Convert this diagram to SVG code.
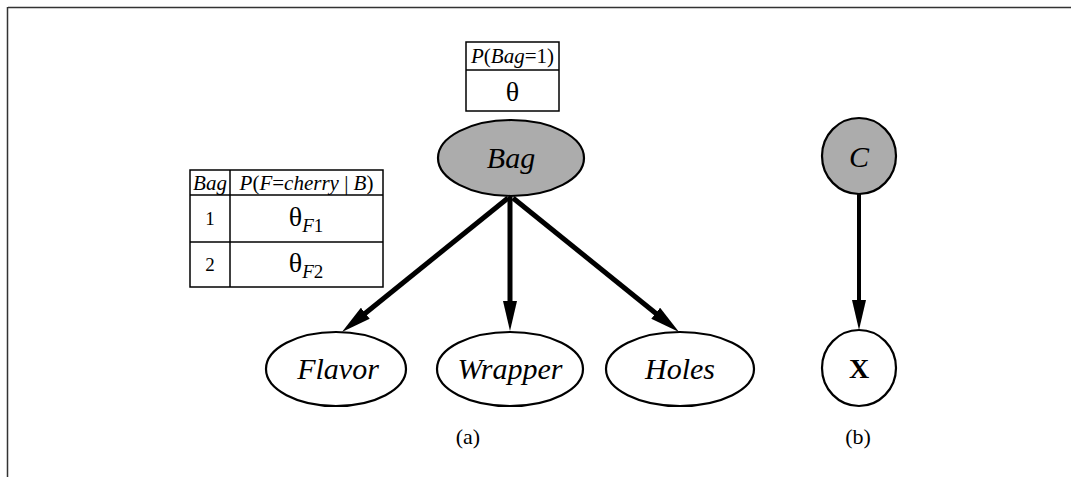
<svg xmlns="http://www.w3.org/2000/svg" width="1071" height="477" viewBox="0 0 1071 477">
<defs>
  <marker id="ah" viewBox="0 -7 30 14" refX="4" refY="0" markerWidth="30" markerHeight="14" markerUnits="userSpaceOnUse" orient="auto">
    <path d="M0,-7 L30,0 L0,7 z" fill="#000"/>
  </marker>
</defs>
<style>
  .frame{stroke:#333;stroke-width:1.5;fill:none}
  .node{stroke:#000;stroke-width:2.2;fill:#fff}
  .shaded{stroke:#000;stroke-width:2.2;fill:#acacac}
  .tbl{stroke:#000;stroke-width:1.5;fill:#fff}
  .tl{stroke:#000;stroke-width:1.5}
  .edge{stroke:#000;stroke-width:5;fill:none;marker-end:url(#ah)}
  .lbl{font-family:"Liberation Serif",serif;font-style:italic;font-size:30px;text-anchor:middle;fill:#000}
  .t{font-family:"Liberation Serif",serif;font-size:21px;text-anchor:middle;fill:#000}
  .n{font-family:"Liberation Serif",serif;font-size:19px;text-anchor:middle;fill:#000}
  .i{font-style:italic}
  .th{font-family:"Liberation Serif",serif;font-size:28px;text-anchor:middle;fill:#000}
  .cap{font-family:"Liberation Serif",serif;font-size:22px;text-anchor:middle;fill:#000}
</style>
<line class="frame" x1="8" y1="7.5" x2="1071" y2="7.5"/>
<line class="frame" x1="7.5" y1="7" x2="7.5" y2="477"/>

<g id="edges">
  <line class="edge" x1="508" y1="198" x2="362.2" y2="315.7"/>
  <line class="edge" x1="510" y1="197" x2="510" y2="305"/>
  <line class="edge" x1="513" y1="198" x2="658.8" y2="315.7"/>
  <line class="edge" x1="859" y1="194" x2="859" y2="304" style="stroke-width:4"/>
</g>

<g id="cpt-bag">
  <rect class="tbl" x="466" y="42" width="93" height="69"/>
  <line class="tl" x1="466" y1="70" x2="559" y2="70"/>
  <text class="t" x="512.5" y="63"><tspan class="i">P</tspan>(<tspan class="i">Bag</tspan>=1)</text>
  <text class="th" x="512.5" y="101">θ</text>
</g>

<g id="cpt-flavor">
  <rect class="tbl" x="190" y="170" width="193" height="117"/>
  <line class="tl" x1="190" y1="195" x2="383" y2="195"/>
  <line class="tl" x1="190" y1="242" x2="383" y2="242"/>
  <line class="tl" x1="230" y1="170" x2="230" y2="287"/>
  <text class="t i" x="210" y="190">Bag</text>
  <text class="t" x="306.5" y="190"><tspan class="i">P</tspan>(<tspan class="i">F</tspan>=<tspan class="i">cherry</tspan> | <tspan class="i">B</tspan>)</text>
  <text class="n" x="210" y="225">1</text>
  <text class="n" x="210" y="271">2</text>
  <text class="th" x="306" y="226">θ<tspan font-size="19" dy="6"><tspan class="i">F</tspan>1</tspan></text>
  <text class="th" x="306" y="272">θ<tspan font-size="19" dy="6"><tspan class="i">F</tspan>2</tspan></text>
</g>

<g id="node-bag">
  <ellipse class="shaded" cx="511" cy="158" rx="73" ry="38"/>
  <text class="lbl" x="511" y="168">Bag</text>
</g>
<g id="node-flavor">
  <ellipse class="node" cx="336" cy="369" rx="70" ry="37"/>
  <text class="lbl" x="338" y="379">Flavor</text>
</g>
<g id="node-wrapper">
  <ellipse class="node" cx="510" cy="369" rx="73" ry="37"/>
  <text class="lbl" x="510" y="379">Wrapper</text>
</g>
<g id="node-holes">
  <ellipse class="node" cx="680" cy="369" rx="74" ry="37"/>
  <text class="lbl" x="680" y="379">Holes</text>
</g>
<g id="node-c">
  <ellipse class="shaded" cx="859" cy="156" rx="37" ry="38"/>
  <text class="lbl" x="859" y="167" font-size="29">C</text>
</g>
<g id="node-x">
  <ellipse class="node" cx="859" cy="368" rx="37" ry="38"/>
  <text class="lbl" x="859" y="378" style="font-style:normal;font-weight:bold;font-size:28px">X</text>
</g>

<text class="cap" x="468" y="444">(a)</text>
<text class="cap" x="858" y="444">(b)</text>
</svg>
